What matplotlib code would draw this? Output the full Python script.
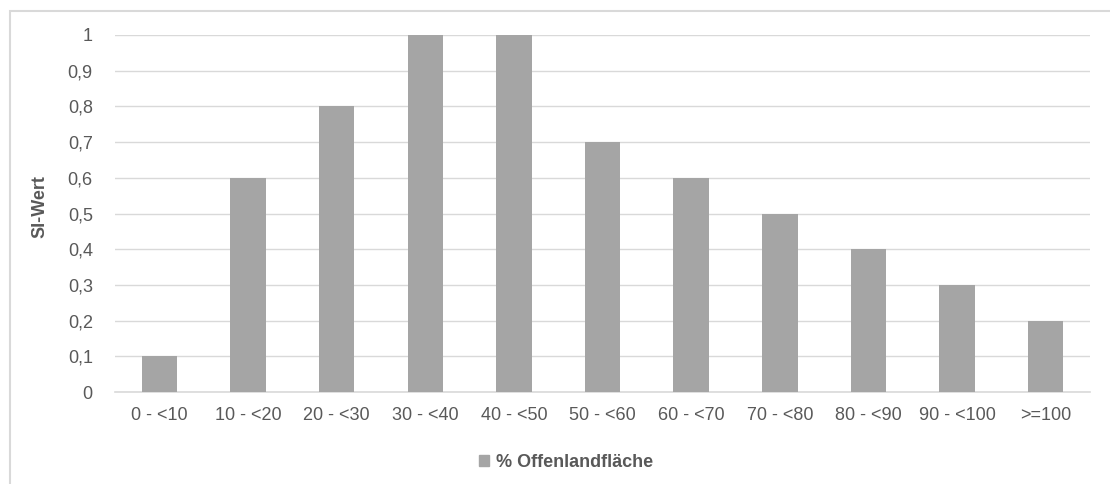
import matplotlib.pyplot as plt
import numpy as np
from matplotlib.patches import Rectangle, Patch

# SI values per open-land share class
categories = ["0 - <10", "10 - <20", "20 - <30", "30 - <40", "40 - <50", "50 - <60",
              "60 - <70", "70 - <80", "80 - <90", "90 - <100", ">=100"]
si_values = [0.1, 0.6, 0.8, 1.0, 1.0, 0.7, 0.6, 0.5, 0.4, 0.3, 0.2]
y_ticks = [0, 0.1, 0.2, 0.3, 0.4, 0.5, 0.6, 0.7, 0.8, 0.9, 1.0]
y_labels = ["0", "0,1", "0,2", "0,3", "0,4", "0,5", "0,6", "0,7", "0,8", "0,9", "1"]

bar_color = "#A5A5A5"
text_color = "#595959"
grid_color = "#D9D9D9"

plt.rcParams["font.family"] = ["Liberation Sans", "DejaVu Sans"]

fig = plt.figure(figsize=(11.1, 4.84), dpi=100)
ax = fig.add_axes([0.1036, 0.19, 0.8784, 0.7377])

x = np.arange(len(categories))
ax.bar(x, si_values, width=0.4, color=bar_color, zorder=3, label="% Offenlandfläche")

ax.set_xlim(-0.5, len(categories) - 0.5)
ax.set_ylim(0, 1)
ax.set_yticks(y_ticks)
ax.set_yticklabels(y_labels)
ax.set_xticks(x)
ax.set_xticklabels(categories)
ax.tick_params(axis="both", length=0, labelsize=13, colors=text_color)
ax.tick_params(axis="y", pad=16)
ax.tick_params(axis="x", pad=11)

ax.yaxis.grid(True, color=grid_color, linewidth=1)
for s in ["top", "right", "left"]:
    ax.spines[s].set_visible(False)
ax.spines["bottom"].set_color(grid_color)
ax.spines["bottom"].set_linewidth(1.2)

ax.set_ylabel("SI-Wert", fontsize=13, fontweight="bold", color=text_color, labelpad=12)
ax.yaxis.set_label_coords(-0.068, 0.52)

leg = fig.legend(handles=[Patch(color=bar_color)], labels=["% Offenlandfläche"],
                 loc="center", bbox_to_anchor=(0.51, 0.045), frameon=False,
                 handlelength=0.55, handleheight=0.55, handletextpad=0.4,
                 prop={"size": 13, "weight": "bold"})
for t in leg.get_texts():
    t.set_color(text_color)

# chart frame
fig.patches.append(Rectangle((10 / 1110, -0.1), 1.2, 1 - 11 / 484 + 0.1,
                             transform=fig.transFigure, fill=False,
                             edgecolor=grid_color, linewidth=1.5))

fig.savefig("out.png", dpi=100)
